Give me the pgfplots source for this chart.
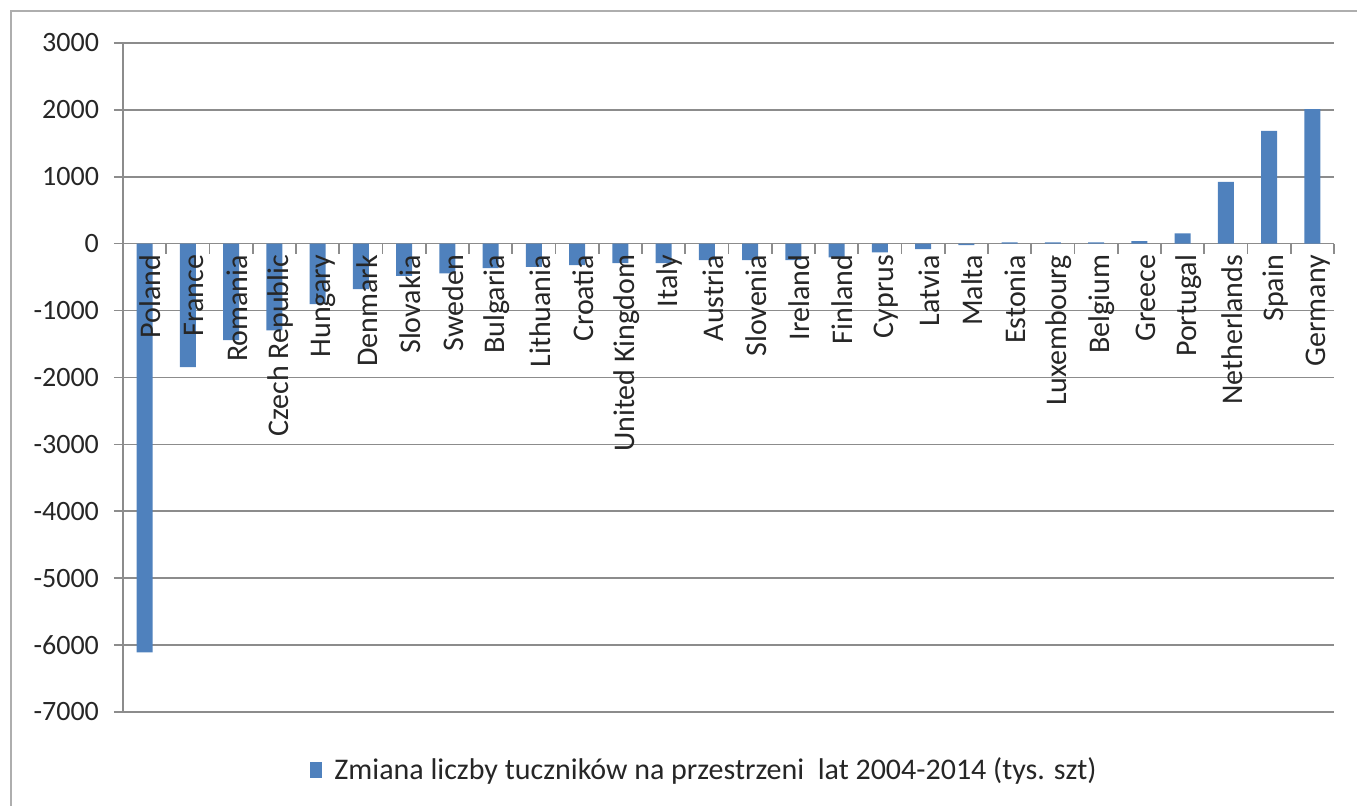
\documentclass[border=0pt]{standalone}
\usepackage{pgfplots}
\pgfplotsset{compat=1.18}
\usepackage{fontspec}
\setmainfont{Carlito}
\definecolor{barblue}{HTML}{4F81BD}
\definecolor{gridgray}{HTML}{8C8C8C}
\definecolor{txt}{HTML}{262626}
\pgfplotsset{
  common/.style={
    at={(61.5pt,47pt)}, anchor=south west,
    scale only axis, width=605.5pt, height=334.5pt,
    xmin=-0.5, xmax=27.5, ymin=-7000, ymax=3000,
    clip=false,
  },
}
\begin{document}
\begin{tikzpicture}
\useasboundingbox (0,0) rectangle (678.5pt,403pt);
\draw[gridgray!70, line width=0.8pt] (5.5pt,0) -- (5.5pt,397.5pt) -- (678.5pt,397.5pt);
\begin{axis}[
  common,
  axis x line=middle, axis y line=left,
  axis line style={-, gridgray, line width=0.8pt},
  hide obscured x ticks=false, hide obscured y ticks=false,
  ytick={-7000,-6000,...,3000},
  ymajorgrids, grid style={gridgray, line width=0.8pt},
  y tick style={gridgray, line width=0.8pt}, major tick length=4.5pt,
  tick align=outside,
  xtick=\empty,
  extra x ticks={0.5,1.5,...,27.5},
  extra x tick labels={},
  extra x tick style={grid=none, tick align=outside, major tick length=5pt, tick style={gridgray, line width=0.8pt}},
  yticklabel style={font=\fontsize{14}{16}\selectfont, text=txt, xshift=-4pt},
  /pgf/number format/assume math mode=true,
  /pgf/number format/1000 sep={},
  legend style={at={(0.481,-0.087)}, anchor=center, draw=none, fill=none, font=\fontsize{15}{17}\selectfont, text=txt},
  legend image code/.code={\fill[barblue] (0pt,-4pt) rectangle (6pt,4pt);},
]
\addplot[ybar, bar width=8pt, fill=barblue, draw=none] coordinates {
(0,-6110) (1,-1845) (2,-1440) (3,-1295) (4,-905) (5,-680) (6,-480) (7,-445)
(8,-365) (9,-345) (10,-320) (11,-290) (12,-290) (13,-245) (14,-245) (15,-245)
(16,-205) (17,-130) (18,-80) (19,-20) (20,20) (21,20) (22,20) (23,40)
(24,155) (25,925) (26,1685) (27,2010)
};
\addlegendentry{\hspace{4pt}Zmiana liczby tuczników na przestrzeni\ \ lat 2004-2014 (tys. szt)}
\end{axis}
\begin{axis}[
  common,
  axis x line=middle, axis y line=none,
  axis line style={draw=none},
  hide obscured x ticks=false,
  ytick=\empty,
  x tick style={draw=none},
  xtick={0,...,27},
  xticklabels={Poland,France,Romania,Czech Republic,Hungary,Denmark,Slovakia,Sweden,Bulgaria,Lithuania,Croatia,United Kingdom,Italy,Austria,Slovenia,Ireland,Finland,Cyprus,Latvia,Malta,Estonia,Luxembourg,Belgium,Greece,Portugal,Netherlands,Spain,Germany},
  xticklabel style={rotate=90, anchor=east, font=\fontsize{15}{17}\selectfont, text=txt, yshift=-3pt},
]
\end{axis}
\end{tikzpicture}
\end{document}
